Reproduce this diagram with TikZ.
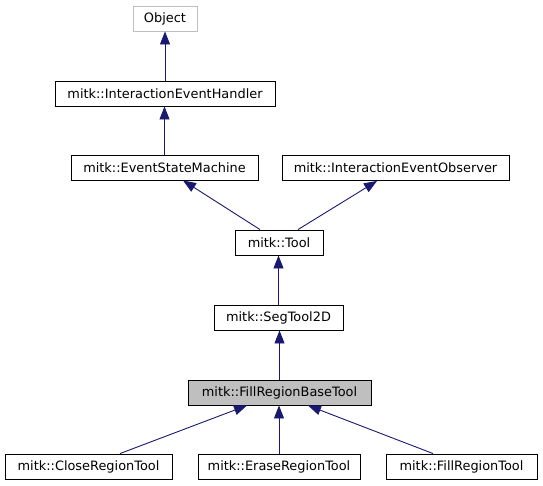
\documentclass[tikz,border=0pt]{standalone}
\usepackage{fontspec}
\setmainfont{DejaVu Sans}
\usetikzlibrary{arrows.meta}
\definecolor{edgeblue}{HTML}{191970}
\definecolor{basegray}{HTML}{BFBFBF}
\begin{document}
\begin{tikzpicture}[x=1pt,y=-1pt,
  cls/.style={draw=black, line width=0.9pt, fill=white, inner sep=0pt,
    minimum height=25pt, font=\fontsize{12.9}{15}\selectfont},
  inh/.style={draw=edgeblue, line width=0.9pt,
    -{Triangle[length=13pt,width=10pt,fill=edgeblue]}}]
\useasboundingbox (0,0) rectangle (543,485);
\node[cls, draw=basegray, minimum width=64pt] (obj) at (165,18.5) {Object};
\node[cls, minimum width=220pt] (ieh) at (165,93.5) {mitk::InteractionEventHandler};
\node[cls, minimum width=187pt] (esm) at (164.5,167.5) {mitk::EventStateMachine};
\node[cls, minimum width=227pt] (obs) at (395.5,168) {mitk::InteractionEventObserver};
\node[cls, minimum width=88pt] (tool) at (279,242.5) {mitk::Tool};
\node[cls, minimum width=129pt] (seg) at (278.5,317.5) {mitk::SegTool2D};
\node[cls, fill=basegray, minimum width=183pt] (base) at (279.5,392.5) {mitk::FillRegionBaseTool};
\node[cls, minimum width=167pt] (close) at (88.5,466.5) {mitk::CloseRegionTool};
\node[cls, minimum width=162pt] (erase) at (279,466.5) {mitk::EraseRegionTool};
\node[cls, minimum width=151pt] (fill) at (461.5,466.5) {mitk::FillRegionTool};

\draw[inh] (ieh.north) -- (ieh.north |- obj.south);
\draw[inh] (esm.north) -- (esm.north |- ieh.south);
\draw[inh] ([xshift=-19pt]tool.north) -- ([xshift=18.5pt]esm.south);
\draw[inh] ([xshift=19pt]tool.north) -- ([xshift=-18.5pt]obs.south);
\draw[inh] (seg.north) -- (seg.north |- tool.south);
\draw[inh] (base.north) -- (base.north |- seg.south);
\draw[inh] ([xshift=31.5pt]close.north) -- ([xshift=-32.5pt]base.south);
\draw[inh] (erase.north) -- (erase.north |- base.south);
\draw[inh] ([xshift=-28.5pt]fill.north) -- ([xshift=28.5pt]base.south);
\end{tikzpicture}
\end{document}
